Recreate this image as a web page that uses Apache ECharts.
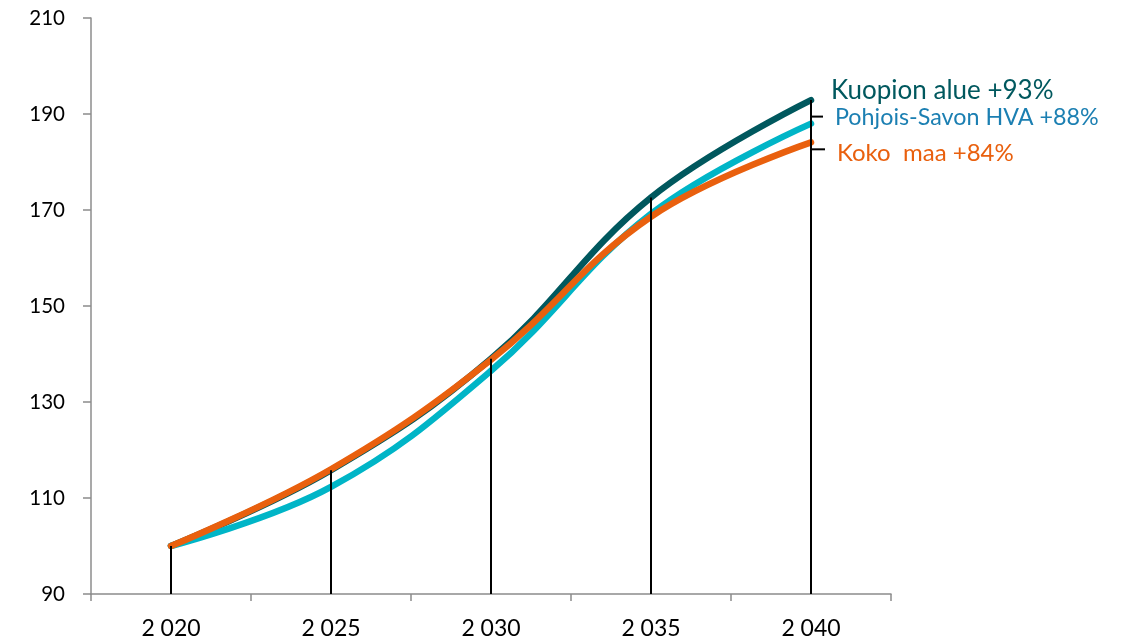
<!DOCTYPE html>
<html><head><meta charset="utf-8">
<script src="https://cdn.jsdelivr.net/npm/echarts@6/dist/echarts.min.js"></script>
<style>html,body{margin:0;padding:0;background:#fff}#c{width:1133px;height:640px}</style>
</head><body><div id="c"></div>
<script>
const categories = ['2 020', '2 025', '2 030', '2 035', '2 040'];
const kuopio = [100, 115.8, 139, 172.6, 192.9];
const pohjoisSavo = [100, 112.3, 136.5, 169.2, 188];
const kokoMaa = [100, 116, 138.8, 168.6, 184.1];
const seriesNames = ['Kuopion alue', 'Pohjois-Savon HVA', 'Koko maa'];
const endLabels = ['Kuopion alue +93%', 'Pohjois-Savon HVA +88%', 'Koko  maa +84%'];
const yTicks = {min: 90, max: 210, interval: 20};

const FONT = 'Lato';
const colors = ['#00585E', '#00B5C7', '#E9600E'];
const labelColors = ['#00585E', '#1B7FB2', '#E9600E'];
const chart = echarts.init(document.getElementById('c'));

function lineSeries(name, data, color, z) {
  return {
    name, type: 'line', data, smooth: 0.4, symbol: 'none', z,
    lineStyle: {color, width: 6.5, cap: 'round', join: 'round'}
  };
}

chart.setOption({
  animation: false,
  grid: {left: 91, right: 242, top: 18, bottom: 46},
  xAxis: {
    type: 'category', data: categories, boundaryGap: true,
    axisLine: {lineStyle: {color: '#8c8c8c', width: 1.5}},
    axisTick: {show: true, length: 7, lineStyle: {color: '#8c8c8c', width: 1.5}},
    axisLabel: {color: '#000', fontFamily: FONT, fontSize: 23, margin: 23}
  },
  yAxis: {
    type: 'value', min: yTicks.min, max: yTicks.max, interval: yTicks.interval,
    axisLine: {show: true, lineStyle: {color: '#8c8c8c', width: 1.5}},
    axisTick: {show: true, inside: false, length: 8, lineStyle: {color: '#8c8c8c', width: 1.5}},
    splitLine: {show: false},
    axisLabel: {color: '#000', fontFamily: FONT, fontSize: 20.5, margin: 26}
  },
  series: [
    lineSeries(seriesNames[0], kuopio, colors[0], 3),
    lineSeries(seriesNames[1], pohjoisSavo, colors[1], 4),
    lineSeries(seriesNames[2], kokoMaa, colors[2], 5),
    {
      type: 'custom', z: 10, data: kuopio.map((v, i) => [i, v]),
      renderItem: function (params, api) {
        const top = api.coord([api.value(0), api.value(1)]);
        const bot = api.coord([api.value(0), yTicks.min]);
        return {type: 'line', shape: {x1: top[0], y1: top[1], x2: bot[0], y2: bot[1]},
          style: {stroke: '#000', lineWidth: 2}};
      }
    }
  ]
});

// end labels placed from data coordinates
const lastIdx = categories.length - 1;
const ends = [kuopio, pohjoisSavo, kokoMaa].map(arr => chart.convertToPixel({gridIndex: 0}, [lastIdx, arr[lastIdx]]));
const px = ends[0][0];
const g = [];
const specs = [
  {dx: 20, dy: -7, size: 26, leader: false},
  {dx: 24, dy: -4, size: 23.3, leader: true, ly: -7, lx: 12},
  {dx: 26, dy: 13, size: 24, leader: true, ly: 7, lx: 14}
];
specs.forEach((s, i) => {
  const y = ends[i][1] + s.dy;
  g.push({type: 'text', left: px + s.dx, top: y - s.size * 0.6,
    style: {text: endLabels[i], fill: labelColors[i], font: s.size + 'px ' + FONT}});
  if (s.leader) {
    const ly = ends[i][1] + s.ly;
    g.push({type: 'line', shape: {x1: px, y1: ly, x2: px + s.lx, y2: ly}, style: {stroke: '#000', lineWidth: 2}});
  }
});
chart.setOption({graphic: g});
</script></body></html>
